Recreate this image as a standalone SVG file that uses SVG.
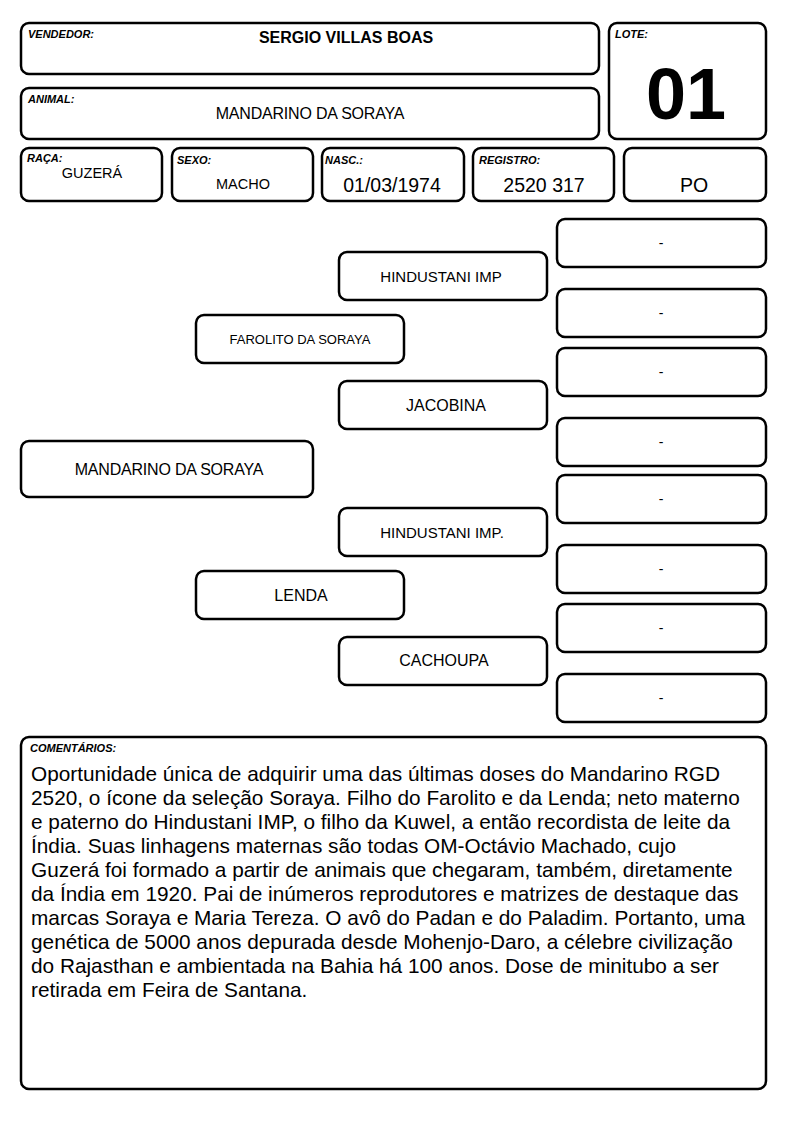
<svg xmlns="http://www.w3.org/2000/svg" width="794" height="1123" viewBox="0 0 794 1123">
<style>
.b{fill:#fff;stroke:#000;stroke-width:2.5}
.lbl{font-family:"Liberation Sans",Arial,sans-serif;font-size:11px;font-weight:bold;font-style:italic;fill:#000}
.t{font-family:"Liberation Sans",Arial,sans-serif;fill:#000;text-anchor:middle}
.c{font-family:"Liberation Sans",Arial,sans-serif;fill:#000;font-size:20.8px}
</style>
<rect width="794" height="1123" fill="#fff"/>
<g id="vendedor"><rect class="b" x="21" y="23" width="578" height="51" rx="8"/><text class="lbl" x="28" y="38">VENDEDOR:</text><text class="t" x="346" y="43" font-size="16" font-weight="bold">SERGIO VILLAS BOAS</text></g>
<g id="animal"><rect class="b" x="21" y="88" width="578" height="51" rx="8"/><text class="lbl" x="28" y="103">ANIMAL:</text><text class="t" x="310" y="119" font-size="16" letter-spacing="-0.2">MANDARINO DA SORAYA</text></g>
<g id="lote"><rect class="b" x="609" y="23" width="157" height="116" rx="8"/><text class="lbl" x="615" y="38">LOTE:</text><text class="t" x="686" y="119" font-size="72" font-weight="bold">01</text></g>
<g id="raca"><rect class="b" x="21" y="148" width="141" height="53" rx="8"/><text class="lbl" x="27" y="162">RAÇA:</text><text class="t" x="92" y="178" font-size="14.5">GUZERÁ</text></g>
<g id="sexo"><rect class="b" x="172" y="148" width="141" height="53" rx="8"/><text class="lbl" x="177" y="164">SEXO:</text><text class="t" x="243" y="189" font-size="14.5">MACHO</text></g>
<g id="nasc"><rect class="b" x="322" y="148" width="142" height="53" rx="8"/><text class="lbl" x="325" y="164">NASC.:</text><text class="t" x="392" y="192" font-size="19.5">01/03/1974</text></g>
<g id="registro"><rect class="b" x="473" y="148" width="141" height="53" rx="8"/><text class="lbl" x="479" y="164">REGISTRO:</text><text class="t" x="544" y="192" font-size="19.5">2520 317</text></g>
<g id="po"><rect class="b" x="624" y="148" width="142" height="53" rx="8"/><text class="t" x="694" y="192" font-size="19.5">PO</text></g>

<g id="main"><rect class="b" x="21" y="441" width="292" height="56" rx="8"/><text class="t" x="169" y="475" font-size="16" letter-spacing="-0.2">MANDARINO DA SORAYA</text></g>
<g id="farolito"><rect class="b" x="196" y="315" width="208" height="48" rx="8"/><text class="t" x="300" y="344" font-size="13">FAROLITO DA SORAYA</text></g>
<g id="lenda"><rect class="b" x="196" y="571" width="208" height="48" rx="8"/><text class="t" x="301" y="601" font-size="16">LENDA</text></g>
<g id="hind1"><rect class="b" x="339" y="252" width="208" height="48" rx="8"/><text class="t" x="441" y="282" font-size="15">HINDUSTANI IMP</text></g>
<g id="jacobina"><rect class="b" x="339" y="381" width="208" height="48" rx="8"/><text class="t" x="446" y="411" font-size="16">JACOBINA</text></g>
<g id="hind2"><rect class="b" x="339" y="508" width="208" height="48" rx="8"/><text class="t" x="442" y="538" font-size="15">HINDUSTANI IMP.</text></g>
<g id="cachoupa"><rect class="b" x="339" y="637" width="208" height="48" rx="8"/><text class="t" x="444" y="666" font-size="16">CACHOUPA</text></g>

<g id="g1"><rect class="b" x="557" y="219" width="209" height="48" rx="8"/><text class="t" x="661" y="248" font-size="14">-</text></g>
<g id="g2"><rect class="b" x="557" y="289" width="209" height="48" rx="8"/><text class="t" x="661" y="318" font-size="14">-</text></g>
<g id="g3"><rect class="b" x="557" y="348" width="209" height="48" rx="8"/><text class="t" x="661" y="377" font-size="14">-</text></g>
<g id="g4"><rect class="b" x="557" y="418" width="209" height="48" rx="8"/><text class="t" x="661" y="447" font-size="14">-</text></g>
<g id="g5"><rect class="b" x="557" y="475" width="209" height="48" rx="8"/><text class="t" x="661" y="504" font-size="14">-</text></g>
<g id="g6"><rect class="b" x="557" y="545" width="209" height="48" rx="8"/><text class="t" x="661" y="574" font-size="14">-</text></g>
<g id="g7"><rect class="b" x="557" y="604" width="209" height="48" rx="8"/><text class="t" x="661" y="633" font-size="14">-</text></g>
<g id="g8"><rect class="b" x="557" y="674" width="209" height="48" rx="8"/><text class="t" x="661" y="703" font-size="14">-</text></g>
<g id="connectors"></g>

<g id="comentarios"><rect class="b" x="21" y="737" width="745" height="352" rx="8"/><text class="lbl" x="30" y="752">COMENTÁRIOS:</text>
<text class="c" x="31" y="781">Oportunidade única de adquirir uma das últimas doses do Mandarino RGD</text>
<text class="c" x="31" y="805">2520, o ícone da seleção Soraya. Filho do Farolito e da Lenda; neto materno</text>
<text class="c" x="31" y="829">e paterno do Hindustani IMP, o filho da Kuwel, a então recordista de leite da</text>
<text class="c" x="31" y="853">Índia. Suas linhagens maternas são todas OM-Octávio Machado, cujo</text>
<text class="c" x="31" y="877">Guzerá foi formado a partir de animais que chegaram, também, diretamente</text>
<text class="c" x="31" y="901">da Índia em 1920. Pai de inúmeros reprodutores e matrizes de destaque das</text>
<text class="c" x="31" y="925">marcas Soraya e Maria Tereza. O avô do Padan e do Paladim. Portanto, uma</text>
<text class="c" x="31" y="949">genética de 5000 anos depurada desde Mohenjo-Daro, a célebre civilização</text>
<text class="c" x="31" y="973">do Rajasthan e ambientada na Bahia há 100 anos. Dose de minitubo a ser</text>
<text class="c" x="31" y="997">retirada em Feira de Santana.</text>
</g>
</svg>
